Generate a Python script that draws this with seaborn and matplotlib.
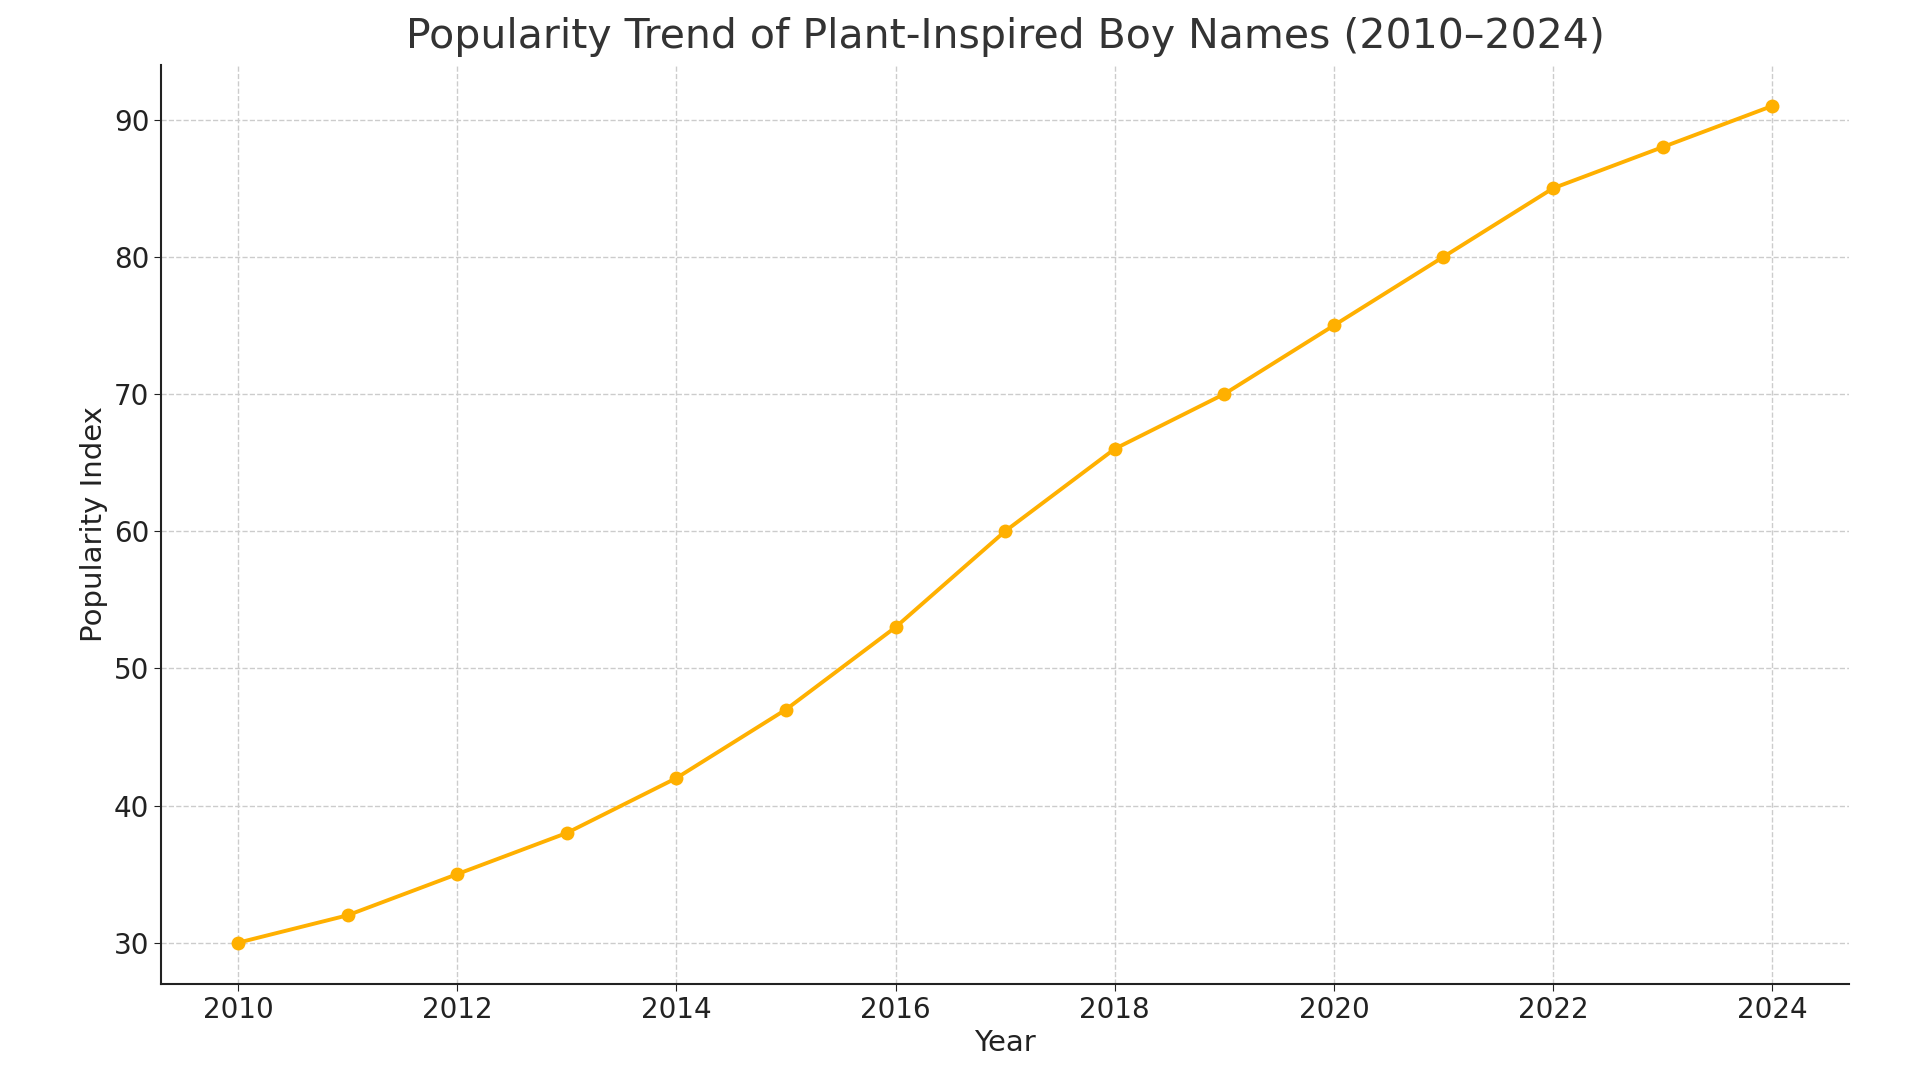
import matplotlib
matplotlib.use("Agg")
import matplotlib.pyplot as plt
import seaborn as sns
import pandas as pd

years = list(range(2010, 2025))
popularity = [30, 32, 35, 38, 42, 47, 53, 60, 66, 70, 75, 80, 85, 88, 91]
df = pd.DataFrame({"Year": years, "Popularity Index": popularity})

sns.set_style("white")
plt.rcParams['font.family'] = ['DejaVu Sans']
fig = plt.figure(figsize=(19.2, 10.8), dpi=100)
ax = fig.add_axes([0.084, 0.089, 0.879, 0.851])
sns.lineplot(data=df, x="Year", y="Popularity Index", ax=ax, color="#FFB000",
             marker="o", markersize=10, markeredgewidth=0, linewidth=2.8)
ax.grid(True, linestyle="--", color="#cccccc", linewidth=1)
ax.set_xticks(range(2010, 2025, 2))
ax.set_yticks(range(30, 91, 10))
ax.tick_params(labelsize=20, colors="#222222", length=5, left=True, bottom=True)
ax.set_xlabel("Year", fontsize=21, color="#222222")
ax.set_ylabel("Popularity Index", fontsize=21, color="#222222")
ax.set_title("Popularity Trend of Plant-Inspired Boy Names (2010–2024)", fontsize=29.5, color="#333333", pad=12)
for s in ["top", "right"]:
    ax.spines[s].set_visible(False)
for s in ["left", "bottom"]:
    ax.spines[s].set_color("#222222")
    ax.spines[s].set_linewidth(1.5)
ax.set_xlim(2009.3, 2024.7)
ax.set_ylim(27, 94)
fig.savefig("out.png", dpi=100)
